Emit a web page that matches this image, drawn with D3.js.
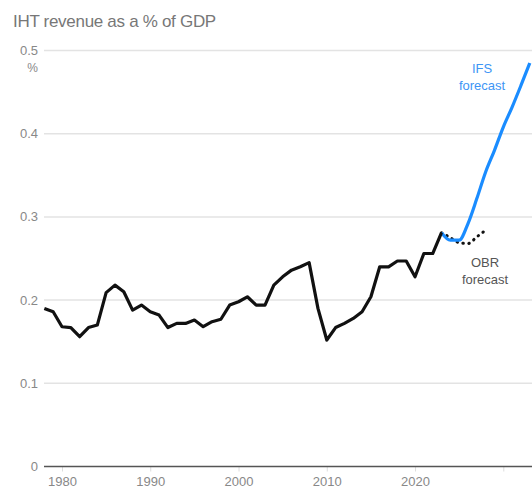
<!DOCTYPE html>
<html>
<head>
<meta charset="utf-8">
<script src="https://cdn.jsdelivr.net/npm/d3@7"></script>
<style>
  body { margin: 0; background: #fff; }
  text { font-family: "Liberation Sans", Arial, sans-serif; }
</style>
</head>
<body>
<svg id="svg"></svg>
<script>
const years = d3.range(1978, 2024);
const actual = [0.190, 0.186, 0.168, 0.167, 0.156, 0.167, 0.170, 0.209, 0.218, 0.210,
                0.188, 0.194, 0.186, 0.182, 0.167, 0.172, 0.172, 0.176, 0.168, 0.174,
                0.177, 0.194, 0.198, 0.204, 0.194, 0.194, 0.218, 0.228, 0.236, 0.240,
                0.245, 0.190, 0.152, 0.167, 0.172, 0.178, 0.186, 0.204, 0.240, 0.240,
                0.247, 0.247, 0.228, 0.256, 0.256, 0.281];
const ifsYears = d3.range(2023, 2034);
const ifs = [0.281, 0.272, 0.272, 0.292, 0.322, 0.354, 0.380, 0.408, 0.432, 0.458, 0.485];
const obrYears = d3.range(2023, 2029);
const obr = [0.281, 0.275, 0.269, 0.268, 0.276, 0.284];
const yTicks = [0, 0.1, 0.2, 0.3, 0.4, 0.5];
const xTicks = [1980, 1990, 2000, 2010, 2020, 2030];
const xLabels = ["1980", "1990", "2000", "2010", "2020", ""];

const layout = {"width": 532, "height": 495, "left": 44, "right": 532};
const condensed = "DejaVu Sans Condensed, Liberation Sans Narrow, sans-serif";

const svg = d3.select("#svg")
  .attr("width", layout.width)
  .attr("height", layout.height);

const xScale = d3.scaleLinear().domain([1980, 2030]).range([62, 503.3]);
const yScale = d3.scaleLinear().domain([0, 0.5]).range([466.5, 50.5]);

// title
svg.append("text")
  .attr("x", 13).attr("y", 27)
  .attr("fill", "#777")
  .attr("font-size", 17)
  .attr("letter-spacing", -0.3)
  .text("IHT revenue as a % of GDP");

// gridlines
svg.append("g").selectAll("line")
  .data(yTicks.filter(d => d > 0))
  .join("line")
  .attr("x1", layout.left).attr("x2", layout.right)
  .attr("y1", d => yScale(d)).attr("y2", d => yScale(d))
  .attr("stroke", "#e3e3e3").attr("stroke-width", 1.5);

// y labels
svg.append("g").selectAll("text")
  .data(yTicks)
  .join("text")
  .attr("x", 38).attr("y", d => yScale(d) + 4.5)
  .attr("text-anchor", "end")
  .attr("fill", "#888")
  .attr("font-size", 13)
  .attr("font-family", condensed)
  .text(d => d === 0 ? "0" : d3.format(".1f")(d));

svg.append("text")
  .attr("x", 38).attr("y", yScale(0.5) + 21)
  .attr("text-anchor", "end")
  .attr("fill", "#888")
  .attr("font-size", 12)
  .attr("font-family", condensed)
  .text("%");

// x axis
const xAxis = svg.append("g")
  .attr("transform", `translate(0,${yScale(0)})`)
  .call(d3.axisBottom(xScale).tickValues(xTicks)
    .tickFormat((d, i) => xLabels[i]).tickSize(5).tickSizeOuter(0));
xAxis.select(".domain").remove();
xAxis.selectAll(".tick line").attr("stroke", "#ddd");
xAxis.selectAll(".tick text")
  .attr("fill", "#888")
  .attr("font-size", 13)
  .attr("font-family", condensed)
  .attr("dy", "0.9em");

svg.append("line")
  .attr("x1", layout.left).attr("x2", layout.right)
  .attr("y1", yScale(0)).attr("y2", yScale(0))
  .attr("stroke", "#555").attr("stroke-width", 1.5);

const line = d3.line()
  .x(d => xScale(d[0]))
  .y(d => yScale(d[1]))
  .curve(d3.curveMonotoneX);

// OBR forecast (dotted)
svg.append("path")
  .datum(d3.zip(obrYears, obr))
  .attr("fill", "none")
  .attr("stroke", "#111")
  .attr("stroke-width", 3)
  .attr("stroke-linecap", "round")
  .attr("stroke-dasharray", "0.5,5.5")
  .attr("d", line);

// IFS forecast
svg.append("path")
  .datum(d3.zip(ifsYears, ifs))
  .attr("fill", "none")
  .attr("stroke", "#1a8cff")
  .attr("stroke-width", 3.2)
  .attr("stroke-linejoin", "round")
  .attr("d", line);

// actual
svg.append("path")
  .datum(d3.zip(years, actual))
  .attr("fill", "none")
  .attr("stroke", "#111")
  .attr("stroke-width", 3.2)
  .attr("stroke-linejoin", "round")
  .attr("d", d3.line().x(d => xScale(d[0])).y(d => yScale(d[1])));

// labels
const labels = [
  {lines: ["IFS", "forecast"], x: 482, y: 73, color: "#3d95f5"},
  {lines: ["OBR", "forecast"], x: 485, y: 267, color: "#555"}
];
labels.forEach(l => {
  svg.append("text")
    .attr("x", l.x).attr("y", l.y)
    .attr("text-anchor", "middle")
    .attr("fill", l.color)
    .attr("font-size", 13)
    .attr("font-family", condensed)
    .selectAll("tspan")
    .data(l.lines)
    .join("tspan")
    .attr("x", l.x)
    .attr("dy", (d, i) => i === 0 ? 0 : 17)
    .text(d => d);
});
</script>
</body>
</html>
